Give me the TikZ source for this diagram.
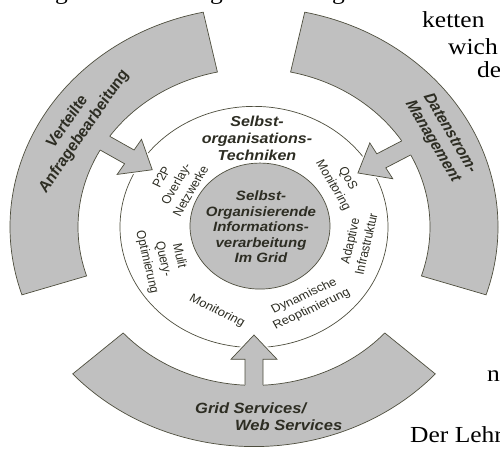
\documentclass[tikz,border=0pt]{standalone}
\usepackage{fontspec}
\setmainfont{Liberation Sans}
\newfontfamily\docserif{Liberation Serif}
\definecolor{fillgray}{RGB}{192,192,192}
\definecolor{edge}{RGB}{78,78,62}
\definecolor{txt}{RGB}{45,45,35}
\begin{document}
\begin{tikzpicture}[x=1pt,y=1pt,
  graybody/.style={fill=fillgray,draw=edge,line width=0.7pt,line join=miter},
  ringedge/.style={fill=white,draw=edge,line width=0.7pt},
  halo/.style={draw=white,line width=3.6pt,line join=miter},
  ringlab/.style={font=\fontsize{13}{16.5}\selectfont,text=txt,align=center,inner sep=0pt,transform shape},
  titlelab/.style={font=\bfseries\itshape\fontsize{16}{19}\selectfont,text=txt,align=center,inner sep=0pt,transform shape},
  corelab/.style={font=\bfseries\itshape\fontsize{15}{17.2}\selectfont,text=txt,align=center,inner sep=0pt,transform shape},
  arclab/.style={font=\bfseries\itshape\fontsize{16.5}{19.5}\selectfont,text=txt,align=center,inner sep=0pt,transform shape},
  pagetext/.style={font=\docserif\fontsize{25.5}{30}\selectfont,text=black,anchor=base west,inner sep=0pt,transform shape}]
\begin{scope}[yscale=0.9]
\useasboundingbox (-254,-247.8) rectangle (246,252.2);
\fill[white] (-254,-247.8) rectangle (246,252.2);
% middle ring and core
\draw[ringedge] (0,0) circle[radius=134];
\draw[graybody] (6,1) circle[radius=70];
\node[titlelab] (title) at (3,98.9) {Selbst-\\organisations-\\Techniken};
\node[corelab] (core) at (7,0) {Selbst-\\Organisierende\\Informations-\\verarbeitung\\Im Grid};
% ring labels
\node[ringlab,rotate=62] (p2p) at (-78,47.8) {P2P\\Overlay-\\Netzwerke};
\node[ringlab,rotate=-62] (qos) at (86,50) {QoS\\Monitoring};
\node[ringlab,rotate=78] (adapt) at (104,-17.2) {Adaptive\\Infrastruktur};
\node[ringlab,rotate=27] (dyn) at (54,-84.4) {Dynamische\\Reoptimierung};
\node[ringlab,rotate=-28] (mon) at (-37,-93.3) {Monitoring};
\node[ringlab,rotate=-78] (mqo) at (-91,-35.6) {Mulit\\Query-\\Optimierung};
% arrow halos
\foreach \a in {148,30,270}{
  \draw[halo,rotate=\a] (175.8,9) -- (147,9) -- (147,23) -- (120,0) -- (147,-23) -- (147,-9) -- (175.8,-9);
}
% outer arcs
\foreach \s/\e in {102/198,-18/78,222/318}{
  \draw[graybody] (\s:244) arc[start angle=\s,end angle=\e,radius=244] -- (\e:176) arc[start angle=\e,end angle=\s,radius=176] -- cycle;
}
% arrows
\foreach \a in {148,30,270}{
  \fill[fillgray,rotate=\a] (150,-9) rectangle (182,9);
  \draw[graybody,rotate=\a] (175.8,9) -- (147,9) -- (147,23) -- (120,0) -- (147,-23) -- (147,-9) -- (175.8,-9);
}
% arc labels
\node[arclab,rotate=58] (verteilt) at (148:210) {Verteilte\\Anfragebearbeitung};
\node[arclab,rotate=-62] (strom) at (28:212) {Datenstrom-\\Management};
\node[arclab,align=left,anchor=west] (grid) at (-59,-211) {Grid Services/\\\hspace*{40pt}Web Services};
% surrounding page text
\node[pagetext] (t1) at (168,221.1) {ketten};
\node[pagetext] (t2) at (194,191.1) {wich};
\node[pagetext] (t3) at (223,165.6) {de};
\node[pagetext] (t4) at (233,-172.2) {n};
\node[pagetext] (t5) at (156,-240) {Der Lehr};
\node[pagetext] (g1) at (-199,253.3) {g};
\node[pagetext] (g2) at (-44,253.3) {g};
\node[pagetext] (g3) at (78,253.3) {g};
\end{scope}
\end{tikzpicture}
\end{document}
